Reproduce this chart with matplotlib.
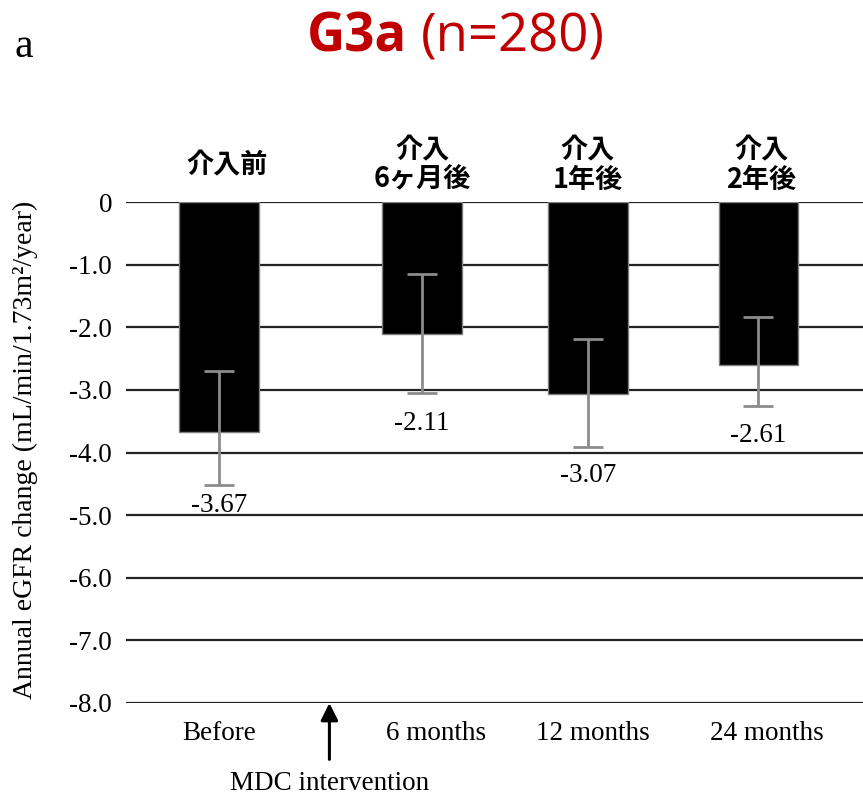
import numpy as np
import matplotlib.pyplot as plt

# annual eGFR change, G3a group
periods = ["Before", "6 months", "12 months", "24 months"]
periods_jp = ["介入前", "介入\n6ヶ月後", "介入\n1年後", "介入\n2年後"]
means = [-3.67, -2.11, -3.07, -2.61]
ci_upper = [-2.70, -1.15, -2.19, -1.83]
ci_lower = [-4.52, -3.05, -3.91, -3.25]
yticks = [0, -1, -2, -3, -4, -5, -6, -7, -8]
ytick_labels = ["0", "-1.0", "-2.0", "-3.0", "-4.0", "-5.0", "-6.0", "-7.0", "-8.0"]

# bar centres (the gap after "Before" leaves room for the intervention arrow)
xpos = np.array([0.0, 1.195, 2.17, 3.175])
label_drop = [20, 30, 29, 30]   # px below the lower whisker for each value label

serif = "Liberation Serif"
jp = ["Noto Sans CJK JP", "DejaVu Sans"]
fs = 19.5

fig = plt.figure(figsize=(8.63, 7.99), dpi=100)
ax = fig.add_axes([126 / 863, 1 - 703 / 799, 1 - 126 / 863, 501 / 799])

m = np.array(means)
yerr = [m - np.array(ci_lower), np.array(ci_upper) - m]
ax.bar(xpos, m, width=0.47, color="black", edgecolor="#7f7f7f", linewidth=1, zorder=2)
ax.errorbar(xpos, m, yerr=yerr, fmt="none", ecolor="#8c8c8c", elinewidth=2,
            capsize=11, capthick=2, zorder=3)

for x, v, lo, d in zip(xpos, means, ci_lower, label_drop):
    ax.annotate(f"{v:.2f}", (x, lo), xytext=(0, -d * 0.72), textcoords="offset points",
                ha="center", va="center", fontsize=fs, family=serif)

jp_shift = [6, 0, 0, 2]
for x, t, dx in zip(xpos, periods_jp, jp_shift):
    ax.annotate(t, (x, 0), xytext=(dx, 26.5), textcoords="offset points",
                ha="center", va="center", fontsize=19.5, fontweight="bold",
                family=jp, linespacing=1.05)

ax.set_xlim(-0.547, 3.79)
ax.set_ylim(-8, 0)
ax.set_yticks(yticks)
ax.set_yticklabels(ytick_labels, family=serif, fontsize=fs)
ax.set_xticks(xpos + np.array([0.0, 0.08, 0.03, 0.05]))
ax.set_xticklabels(periods, family=serif, fontsize=fs)
ax.tick_params(axis="y", length=0, pad=10)
ax.tick_params(axis="x", length=0, pad=13)
ax.yaxis.grid(True, color="#222222", linewidth=1.6)
ax.set_axisbelow(True)
for s in ax.spines.values():
    s.set_visible(False)

# intervention marker between "Before" and "6 months"
ax.annotate("", xy=(0.65, -8), xytext=(0.65, -8.9),
            arrowprops=dict(arrowstyle="-|>", color="black", lw=2.2, mutation_scale=26,
                            shrinkA=0, shrinkB=0),
            annotation_clip=False)
ax.text(0.65, -9.28, "MDC intervention", ha="center", va="center",
        fontsize=fs, family=serif)

fig.text(25 / 863, 1 - 450 / 799, "Annual eGFR change (mL/min/1.73m²/year)",
         family=serif, fontsize=20, rotation=90, ha="center", va="center")

fig.text(14 / 863, 1 - 57 / 799, "a", family=serif, fontsize=30, ha="left", va="baseline")
red = "#c00000"
fig.text(407 / 863, 1 - 52 / 799, "G3a", color=red, fontsize=38, fontweight="bold",
         family="Open Sans", ha="right", va="baseline")
fig.text(421 / 863, 1 - 52 / 799, "(n=280)", color=red, fontsize=38,
         family="Open Sans", ha="left", va="baseline")

fig.savefig("out.png", dpi=100)
